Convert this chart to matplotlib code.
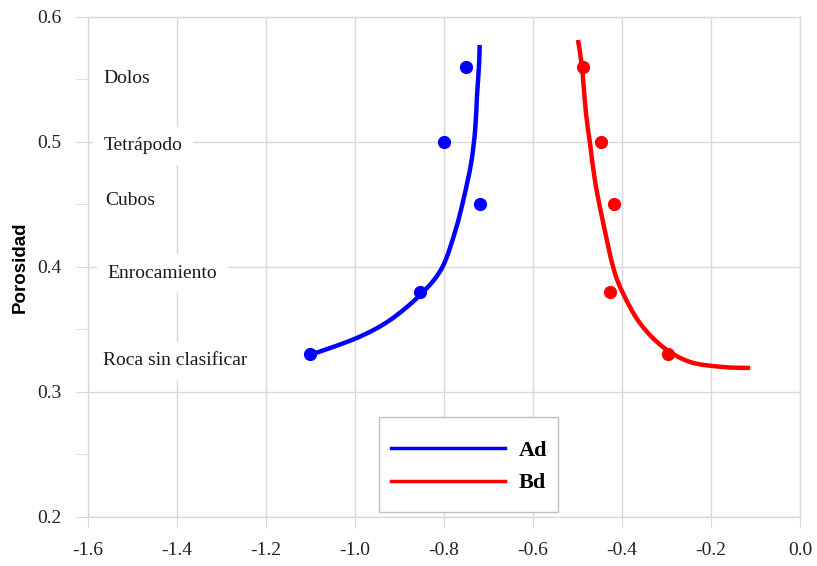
import matplotlib
matplotlib.use("Agg")
import matplotlib.pyplot as plt
from matplotlib.ticker import MultipleLocator
from matplotlib.path import Path
from matplotlib.patches import PathPatch, Rectangle
from matplotlib.lines import Line2D

# Measured points
ad_x = [-1.10, -0.855, -0.80, -0.72, -0.75]
ad_y = [0.33, 0.38, 0.50, 0.45, 0.56]
bd_x = [-0.297, -0.427, -0.418, -0.447, -0.488]
bd_y = [0.33, 0.38, 0.45, 0.50, 0.56]

# Fitted trend curves (sampled along the fit)
ad_fit_x = [-1.101, -0.996, -0.921, -0.849, -0.8035, -0.774, -0.756,
            -0.739, -0.730, -0.726, -0.721, -0.720]
ad_fit_y = [0.3296, 0.3432, 0.3576, 0.3792, 0.4000, 0.4296, 0.4544,
            0.4832, 0.5096, 0.5360, 0.5632, 0.5776]
bd_fit_x = [-0.499, -0.490, -0.481, -0.472, -0.461, -0.445, -0.420,
            -0.398, -0.360, -0.308, -0.247, -0.173, -0.112]
bd_fit_y = [0.5816, 0.5600, 0.5232, 0.4992, 0.4696, 0.4400, 0.4000,
            0.3792, 0.3552, 0.3360, 0.3240, 0.3200, 0.3192]

# Armour unit types and their porosity
unit_names = ["Dolos", "Tetrápodo", "Cubos", "Enrocamiento", "Roca sin clasificar"]
unit_y = [0.551, 0.497, 0.453, 0.395, 0.325]
unit_x = [-1.565, -1.565, -1.561, -1.556, -1.567]

x_ticks = [-1.6, -1.4, -1.2, -1.0, -0.8, -0.6, -0.4, -0.2, 0.0]
y_ticks = [0.2, 0.3, 0.4, 0.5, 0.6]

serif = ["Liberation Serif", "DejaVu Serif"]
grid_c = "#d9d9d9"


def smooth_path(xs, ys):
    """Catmull-Rom curve through the given nodes, as cubic Bezier segments."""
    pts = list(zip(xs, ys))
    n = len(pts)
    verts = [pts[0]]
    codes = [Path.MOVETO]
    for i in range(n - 1):
        p0 = pts[i - 1] if i > 0 else pts[i]
        p1 = pts[i]
        p2 = pts[i + 1]
        p3 = pts[i + 2] if i + 2 < n else pts[i + 1]
        c1 = (p1[0] + (p2[0] - p0[0]) / 6.0, p1[1] + (p2[1] - p0[1]) / 6.0)
        c2 = (p2[0] - (p3[0] - p1[0]) / 6.0, p2[1] - (p3[1] - p1[1]) / 6.0)
        verts += [c1, c2, p2]
        codes += [Path.CURVE4] * 3
    return Path(verts, codes)


fig = plt.figure(figsize=(8.17, 5.66), dpi=100)
ax = fig.add_axes([0.1077, 0.0866, 0.8715, 0.8834])
ax.set_xlim(-1.6, 0.0)
ax.set_ylim(0.2, 0.6)

ax.set_xticks(x_ticks)
ax.set_yticks(y_ticks)
ax.yaxis.set_minor_locator(MultipleLocator(0.05))
ax.set_xticklabels([f"{v:.1f}" for v in x_ticks], fontfamily=serif, fontsize=14)
ax.set_yticklabels([f"{v:.1f}" for v in y_ticks], fontfamily=serif, fontsize=14)
ax.tick_params(axis="x", which="major", direction="out", length=8, color=grid_c,
               labelcolor="#222222", pad=10)
ax.tick_params(axis="y", which="both", direction="out", length=9, color=grid_c,
               labelcolor="#222222", pad=10)
ax.grid(True, color=grid_c, linewidth=1.0, zorder=0)
ax.set_axisbelow(True)
for s in ax.spines.values():
    s.set_color(grid_c)
    s.set_linewidth(1.0)

ax.set_ylabel("Porosidad", fontfamily=["Liberation Sans", "DejaVu Sans"],
              fontweight="bold", fontsize=13.5, labelpad=6)

for name, tx, ty in zip(unit_names, unit_x, unit_y):
    ax.text(tx, ty, name, fontfamily=serif, fontsize=14, color="#1a1a1a",
            ha="left", va="center", zorder=2,
            bbox=dict(boxstyle="square,pad=0.55", fc="white", ec="none"))

blue = "#0000ff"
red = "#ff0000"
ax.add_patch(PathPatch(smooth_path(ad_fit_x, ad_fit_y), fc="none", ec=blue,
                       lw=3.2, zorder=3, capstyle="butt"))
ax.add_patch(PathPatch(smooth_path(bd_fit_x, bd_fit_y), fc="none", ec=red,
                       lw=3.2, zorder=3, capstyle="butt"))
ax.plot(ad_x, ad_y, "o", color=blue, markersize=8.5, zorder=4)
ax.plot(bd_x, bd_y, "o", color=red, markersize=8.5, zorder=4)

# Legend box and entries
ax.add_patch(Rectangle((0.409, 0.01), 0.251, 0.19, transform=ax.transAxes,
                       fc="white", ec="#bfbfbf", lw=1.0, zorder=5))
handles = [Line2D([], [], color=blue, lw=2.5), Line2D([], [], color=red, lw=2.5)]
leg = ax.legend(handles, ["Ad", "Bd"], loc="center left",
                bbox_to_anchor=(0.4256, 0.100),
                prop=dict(family=serif, weight="bold", size=16),
                handlelength=5.13, handletextpad=0.6, labelspacing=0.53,
                borderpad=0, borderaxespad=0, frameon=False)
leg.set_zorder(6)

fig.savefig("out.png", dpi=100)
